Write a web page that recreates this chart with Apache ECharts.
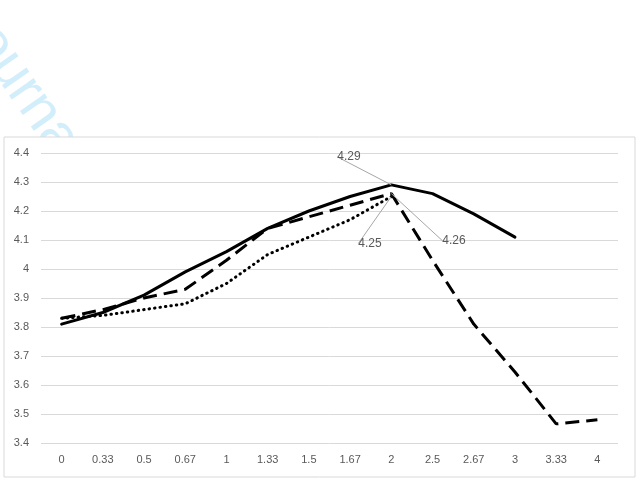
<!DOCTYPE html>
<html>
<head>
<meta charset="utf-8">
<script src="https://cdn.jsdelivr.net/npm/echarts@6/dist/echarts.min.js"></script>
<style>
  html, body { margin: 0; padding: 0; background: #fff; }
  #main { width: 639px; height: 485px; }
</style>
</head>
<body>
<div id="main"></div>
<script>
// categories on the x axis
var categories = ['0', '0.33', '0.5', '0.67', '1', '1.33', '1.5', '1.67', '2', '2.5', '2.67', '3', '3.33', '4'];
// three series
var solidValues  = [3.81, 3.85, 3.91, 3.99, 4.06, 4.14, 4.20, 4.25, 4.29, 4.26, 4.19, 4.11, null, null];
var dashedValues = [3.83, 3.86, 3.90, 3.93, 4.03, 4.14, 4.18, 4.22, 4.26, 4.03, 3.81, 3.645, 3.466, 3.48];
var dottedValues = [3.83, 3.84, 3.86, 3.88, 3.95, 4.05, 4.11, 4.17, 4.25, null, null, null, null, null];
// which point of each series carries a data label
var labelIndex = 8;

var textColor = '#595959';
var font = 'Liberation Sans';

// turn a plain array into data items, with a label only on the peak point
function withLabel(values) {
  return values.map(function (v, i) {
    if (i !== labelIndex) return v;
    return {
      value: v,
      label: {
        show: true, position: 'inside', align: 'left', verticalAlign: 'middle',
        formatter: function (p) { return p.value.toFixed(2); }
      },
      labelLine: { show: true, lineStyle: { color: '#a6a6a6', width: 1 } }
    };
  });
}

// label shift from its point: solid, dashed, dotted
var offsets = [[-54, -28], [51, 47], [-33, 47]];

function makeSeries(values, idx, lineType, cap) {
  return {
    type: 'line',
    data: withLabel(values),
    symbol: 'circle',
    symbolSize: 0,
    showSymbol: true,
    connectNulls: false,
    z: 5 - idx,
    lineStyle: { color: '#000', width: 3, type: lineType, cap: cap || 'butt' },
    itemStyle: { color: '#000' },
    label: { color: textColor, fontSize: 12, fontFamily: font },
    labelLayout: function () {
      return { dx: offsets[idx][0], dy: offsets[idx][1], moveOverlap: false };
    },
    animation: false
  };
}

var myChart = echarts.init(document.getElementById('main'));
var option = {
  backgroundColor: '#fff',
  animation: false,
  graphic: [
    // faint page watermark behind the chart frame
    {
      type: 'text', x: -33, y: 8, rotation: -55 * Math.PI / 180, z: -20,
      style: { text: 'Journal Pre-proof', fill: '#d3eefb', font: '57px "Liberation Sans"', textVerticalAlign: 'middle' }
    },
    {
      type: 'rect', z: -10,
      shape: { x: 4, y: 137, width: 631, height: 340 },
      style: { fill: '#fff', stroke: '#d9d9d9', lineWidth: 1 }
    }
  ],
  grid: { left: 41, right: 21, top: 153, bottom: 42 },
  xAxis: {
    type: 'category',
    data: categories,
    boundaryGap: true,
    axisLine: { show: false },
    axisTick: { show: false },
    axisLabel: { color: textColor, fontSize: 11, fontFamily: font, margin: 11 }
  },
  yAxis: {
    type: 'value',
    min: 3.4,
    max: 4.4,
    interval: 0.1,
    axisLine: { show: false },
    axisTick: { show: false },
    splitLine: { lineStyle: { color: '#d9d9d9', width: 1 } },
    axisLabel: {
      color: textColor, fontSize: 11, fontFamily: font, margin: 12,
      formatter: function (v) { return parseFloat(v.toFixed(1)).toString(); }
    }
  },
  series: [
    makeSeries(solidValues, 0, 'solid', 'round'),
    makeSeries(dashedValues, 1, [14, 7]),
    makeSeries(dottedValues, 2, [0.5, 5], 'round')
  ]
};
myChart.setOption(option);
</script>
</body>
</html>
